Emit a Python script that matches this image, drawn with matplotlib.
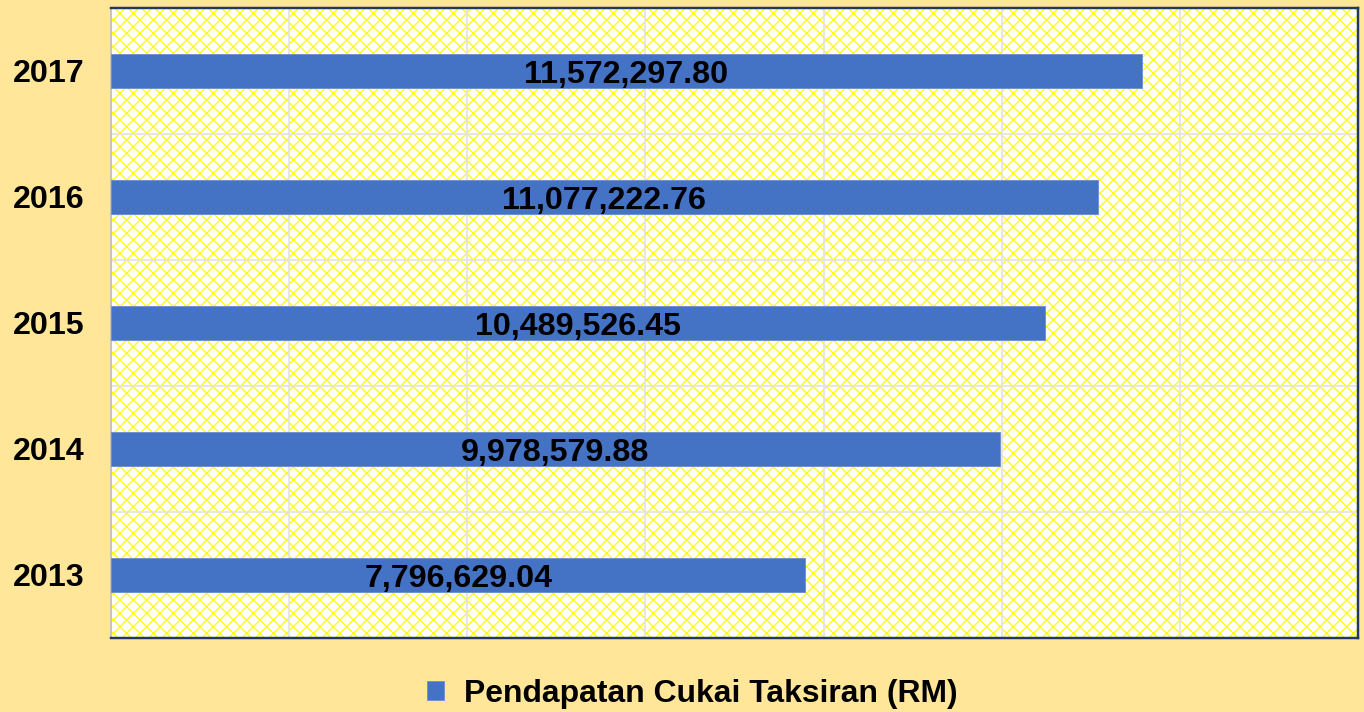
import numpy as np
import matplotlib.pyplot as plt
from matplotlib.patches import Rectangle

plt.rcParams['font.family'] = ['Liberation Sans', 'DejaVu Sans']
plt.rcParams['hatch.color'] = '#FFFF00'
plt.rcParams['hatch.linewidth'] = 1.1

# data
years = ['2013', '2014', '2015', '2016', '2017']
revenue = [7796629.04, 9978579.88, 10489526.45, 11077222.76, 11572297.80]
series_name = 'Pendapatan Cukai Taksiran (RM)'

bg = '#FFE699'
bar_color = '#4472C4'

# dpi 80 so that the hatch spacing matches the reference
fig = plt.figure(figsize=(1364 / 80, 712 / 80), dpi=80, facecolor=bg)
ax = fig.add_axes([111 / 1364, 1 - 638 / 712, (1358 - 111) / 1364, (638 - 8) / 712])

# hatched plot background
ax.set_facecolor('white')
ax.add_patch(Rectangle((0, 0), 1, 1, transform=ax.transAxes, facecolor='white',
                       edgecolor='#FFFF00', hatch='xx', linewidth=0, zorder=0))

y = np.arange(len(years))
bars = ax.barh(y, revenue, height=0.27, color=bar_color, edgecolor='#6E8FCF',
               linewidth=0.8, zorder=3, label=series_name)

for yi, v in zip(y, revenue):
    ax.text(v / 2, yi, f'{v:,.2f}', ha='center', va='center_baseline',
            fontsize=29, fontweight='bold', color='black', zorder=4)

ax.set_xlim(0, 14000000)
ax.set_ylim(-0.5, len(years) - 0.5)
ax.set_xticks(np.arange(0, 14000001, 2000000))
ax.set_xticklabels([])
ax.set_yticks(y)
ax.set_yticklabels(years, fontsize=29, fontweight='bold')
ax.set_yticks(np.arange(-0.5, len(years), 1), minor=True)
ax.tick_params(axis='both', which='both', length=0)
ax.tick_params(axis='y', pad=24)

ax.grid(axis='x', which='major', color='#E3E3E3', linewidth=1.6, zorder=1)
ax.grid(axis='y', which='minor', color='#E3E3E3', linewidth=1.6, zorder=1)
ax.set_axisbelow(True)

for side in ['top', 'right', 'bottom']:
    ax.spines[side].set_color('#1F3864')
    ax.spines[side].set_linewidth(2.2)
ax.spines['left'].set_color('#BFBFBF')
ax.spines['left'].set_linewidth(1.5)

leg = fig.legend(handles=[bars], labels=[series_name], loc='center',
                 bbox_to_anchor=(692 / 1364, 1 - 694 / 712), frameon=False,
                 prop={'size': 28.7, 'weight': 'bold'}, handlelength=0.55,
                 handleheight=0.55, handletextpad=0.6)

fig.savefig('out.png', dpi=80, facecolor=bg)
